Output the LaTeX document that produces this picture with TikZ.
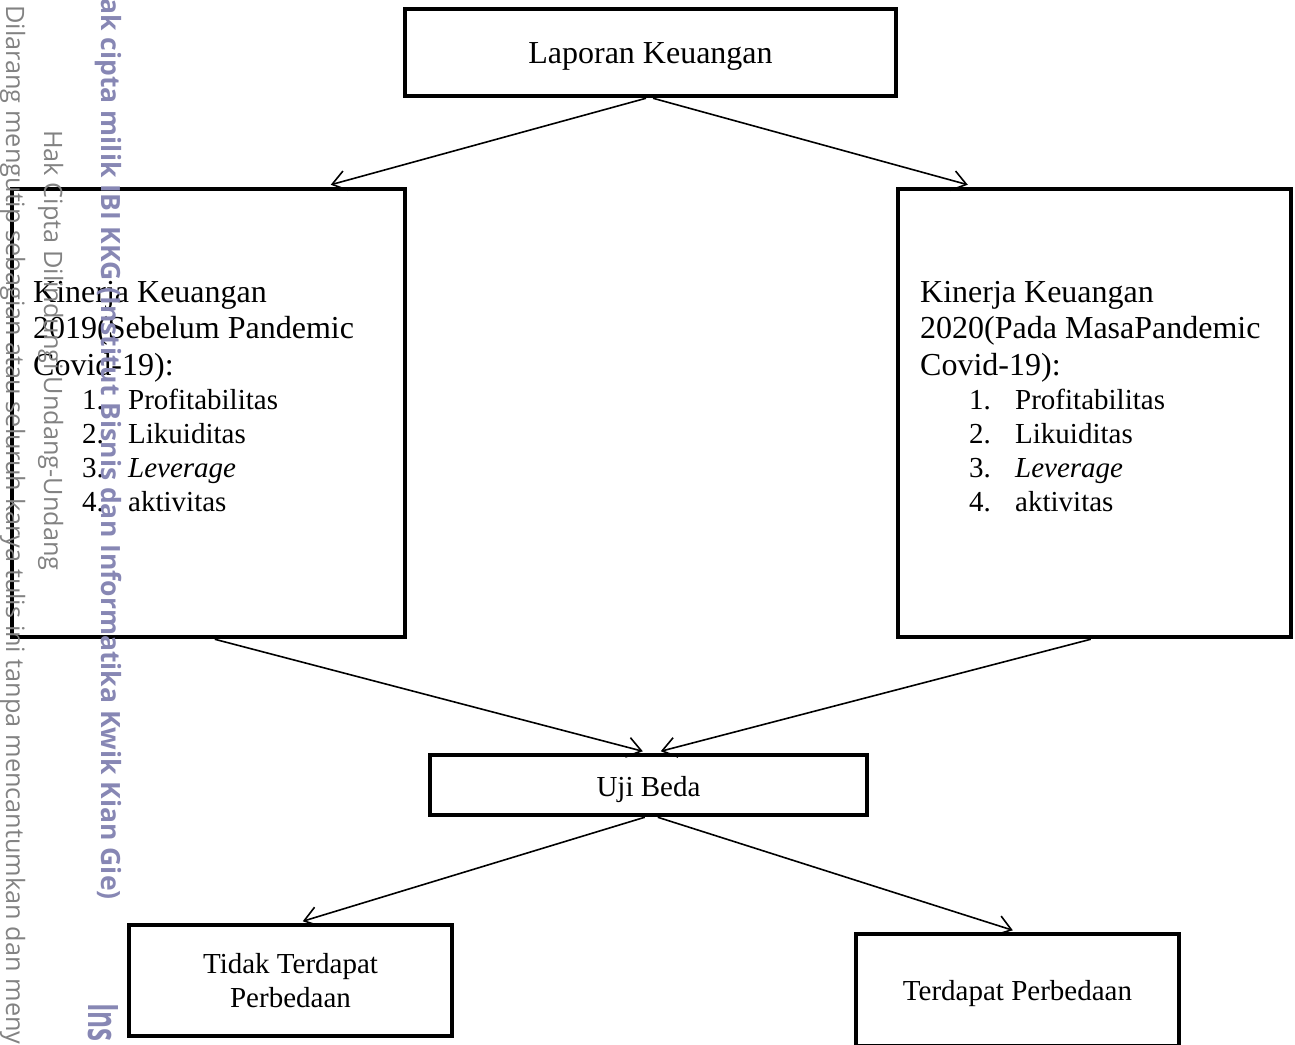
\documentclass[tikz,border=0pt]{standalone}
\usepackage{fontspec}
\setmainfont{Liberation Serif}
\newfontfamily\wmfont{Open Sans}
\usetikzlibrary{arrows.meta}
\definecolor{wmbold}{RGB}{135,135,180}
\definecolor{wmgray}{RGB}{130,130,130}
\tikzset{
  box/.style={draw, line width=4.5pt, inner sep=0pt, align=center},
  kin/.style={inner sep=0pt, text width=360pt, align=flush left, font=\fontsize{32}{36.5}\selectfont},
  lbl/.style={inner sep=0pt, align=center, font=\fontsize{29}{34}\selectfont},
  conn/.style={line width=1.6pt, -{Straight Barb[length=14pt,width=20pt,line width=1.6pt]}},
  wm/.style={inner sep=0pt, text=wmgray, font=\wmfont\fontsize{25.3}{30}\selectfont},
  wmb/.style={inner sep=0pt, text=wmbold, font=\wmfont\bfseries\fontsize{26.5}{31}\selectfont}
}
\newcommand{\kitem}[2]{\hspace*{49pt}\makebox[46pt][l]{#1}#2}
\begin{document}
\begin{tikzpicture}[x=1pt,y=-1pt]
\useasboundingbox (0,0) rectangle (1295,1044);
% boxes
\node[box, minimum width=491pt, minimum height=87pt, text height=22pt, text depth=0pt, font=\fontsize{32}{37}\selectfont] (lap) at (650.5,52.5) {Laporan Keuangan};
\node[box, minimum width=393pt, minimum height=448pt] (k19) at (208.5,413) {};
\node[box, minimum width=393pt, minimum height=448pt] (k20) at (1094.5,413) {};
\node[kin, anchor=north west] (k19t) at (33,281) {\noindent{\fontsize{32}{36.5}\selectfont Kinerja Keuangan\\2019(Sebelum Pandemic\\Covid-19):\par}%
{\fontsize{29}{34}\selectfont\noindent\kitem{1.}{Profitabilitas}\\\kitem{2.}{Likuiditas}\\\kitem{3.}{\textit{Leverage}}\\\kitem{4.}{aktivitas}\par}};
\node[kin, anchor=north west] (k20t) at (920,281) {\noindent{\fontsize{32}{36.5}\selectfont Kinerja Keuangan\\2020(Pada MasaPandemic\\Covid-19):\par}%
{\fontsize{29}{34}\selectfont\noindent\kitem{1.}{Profitabilitas}\\\kitem{2.}{Likuiditas}\\\kitem{3.}{\textit{Leverage}}\\\kitem{4.}{aktivitas}\par}};
\node[box, minimum width=437pt, minimum height=60pt, text height=22pt, text depth=0pt, font=\fontsize{29}{34}\selectfont] (uji) at (648.5,785) {Uji Beda};
\node[box, minimum width=323pt, minimum height=111pt] (tidak) at (290.5,980.5) {};
\node[lbl, anchor=north] (tidakt) at (290.5,953.5) {Tidak Terdapat\\Perbedaan};
\node[box, minimum width=323pt, minimum height=112pt, text height=20pt, text depth=0pt, font=\fontsize{29}{34}\selectfont] (terd) at (1017.5,990) {Terdapat Perbedaan};
% connectors
\draw[conn] ([xshift=-4.5pt]lap.south) -- ([xshift=321pt,yshift=2pt]k19.north west);
\draw[conn] ([xshift=2.5pt]lap.south) -- ([xshift=72pt,yshift=2pt]k20.north west);
\draw[conn] ([xshift=205pt]k19.south west) -- ([xshift=215pt,yshift=1.5pt]uji.north west);
\draw[conn] ([xshift=195pt]k20.south west) -- ([xshift=233pt,yshift=1.5pt]uji.north west);
\draw[conn] ([xshift=217pt]uji.south west) -- ([xshift=176pt,yshift=1.5pt]tidak.north west);
\draw[conn] ([xshift=230pt]uji.south west) -- ([xshift=159pt,yshift=1.5pt]terd.north west);
% watermark
\begin{scope}
\clip (0,0) rectangle (1295,1044);
\node[wm, anchor=base west, rotate=-90] (w1) at (6,5) {Dilarang mengutip sebagian atau seluruh karya tulis ini tanpa mencantumkan dan meny};
\node[wm, anchor=base west, rotate=-90] (w2) at (44,130) {Hak Cipta Dilindungi Undang-Undang};
\node[wmb, anchor=base east, rotate=-90] (w3) at (101,900) {Hak cipta milik IBI KKG (Institut Bisnis dan Informatika Kwik Kian Gie)};
\node[wmb, font=\wmfont\bfseries\fontsize{42}{46}\selectfont, anchor=base west, rotate=-90] (w4) at (88,1003) {\scalebox{0.62}[1]{Ins}};
\end{scope}
\end{tikzpicture}
\end{document}
